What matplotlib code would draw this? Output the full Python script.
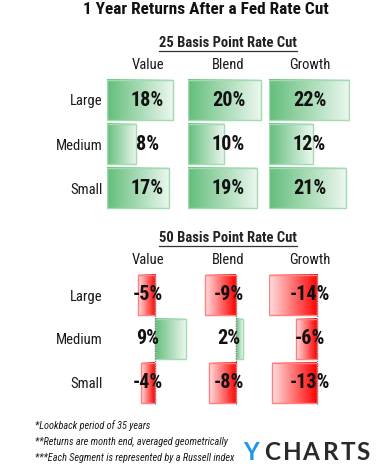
import matplotlib
matplotlib.use('Agg')
import matplotlib.pyplot as plt
import numpy as np
from matplotlib import font_manager as fm
from matplotlib.colors import to_rgb
from matplotlib.lines import Line2D
from matplotlib.transforms import blended_transform_factory as btf

# ---------------- data ----------------
title = "1 Year Returns After a Fed Rate Cut"
section_titles = ["25 Basis Point Rate Cut", "50 Basis Point Rate Cut"]
styles = ["Value", "Blend", "Growth"]
sizes = ["Large", "Medium", "Small"]
cut25_value = [18, 8, 17]
cut25_blend = [20, 10, 19]
cut25_growth = [22, 12, 21]
cut50_value = [-5, 9, -4]
cut50_blend = [-9, 2, -8]
cut50_growth = [-14, -6, -13]
footnotes = ["*Lookback period of 35 years",
             "**Returns are month end, averaged geometrically",
             "***Each Segment is represented by a Russell index"]
logo_letters = ["Y", "C", "H", "A", "R", "T", "S"]

# ---------------- fonts ----------------
names = {f.name for f in fm.fontManager.ttflist}
COND = "Roboto" if "Roboto" in names else "DejaVu Sans"
for cand in ["Roboto Condensed", "Liberation Sans Narrow"]:
    if cand in names:
        COND = cand
        break
plt.rcParams['font.family'] = [COND, 'DejaVu Sans']

W, H = 386, 471
fig = plt.figure(figsize=(W / 100, H / 100), dpi=100)
fig.patch.set_facecolor('white')


def px_axes(left, top, width, height):
    return fig.add_axes([left / W, 1 - (top + height) / H, width / W, height / H])


GREEN = "#63BE7B"
RED = "#FF0000"
GREEN_EDGE = "#a0dbb1"
RED_EDGE = "#ff8080"


def gradient_bar(ax, y, v, h):
    base = GREEN if v >= 0 else RED
    edge = GREEN_EDGE if v >= 0 else RED_EDGE
    bars = ax.barh([y], [v], height=h, left=0, facecolor='none',
                   edgecolor=edge, linewidth=1.0, zorder=2)
    r = bars.patches[0]
    x0, w = r.get_x(), r.get_width()
    y0, hh = r.get_y(), r.get_height()
    c0 = np.array(to_rgb(base))
    c1 = c0 + (1 - c0) * 0.88
    t = np.linspace(0, 1, 256)[:, None]
    img = (c0[None, :] * (1 - t) + c1[None, :] * t)[None, :, :]
    # column 0 at zero, fading outward
    ax.imshow(img, extent=[x0, x0 + w, y0 + hh, y0], aspect='auto',
              interpolation='bilinear', zorder=1)


def section(top, series, xlim, zero_line):
    axes = []
    for i, (name, vals) in enumerate(zip(styles, series)):
        ax = px_axes(107 + 81 * i, top, 81, 132)
        for j, v in enumerate(vals):
            gradient_bar(ax, j, v, 0.92)
        tr = btf(ax.transAxes, ax.transData)
        for j, v in enumerate(vals):
            ax.text(0.5, j, f"{v}%", transform=tr, ha='center', va='center',
                    fontsize=14.5, fontweight='bold', color='#111111', zorder=5)
        if zero_line:
            ax.axvline(0, color='#7a7a7a', linestyle=(0, (1, 1)), linewidth=0.9,
                       ymin=0.01, ymax=0.99, zorder=4)
        ax.set_xlim(*xlim)
        ax.set_ylim(2.5, -0.5)
        for s in ax.spines.values():
            s.set_visible(False)
        ax.set_xticks([])
        if i == 0:
            ax.set_yticks(range(len(sizes)), sizes)
            ax.tick_params(axis='y', length=0, pad=3, labelsize=10.5,
                           labelcolor='#1a1a1a')
        else:
            ax.set_yticks([])
        ax.text(0.5, 1 + 13 / 132, name, transform=ax.transAxes, ha='center',
                va='center', fontsize=10.5, color='#1a1a1a')
        ax.patch.set_alpha(0)
        axes.append(ax)
    return axes


section(78, [cut25_value, cut25_blend, cut25_growth], (0, 22.2), False)
section(273, [cut50_value, cut50_blend, cut50_growth], (-14, 9.6), True)

# titles
fig.text(206 / W, 1 - 9 / H, title, ha='center', va='center', fontsize=12.4,
         fontweight='bold', color='#111111')
subs = []
for txt, yc in zip(section_titles, [43, 238]):
    subs.append(fig.text(228 / W, 1 - yc / H, txt, ha='center', va='center',
                         fontsize=10.5, fontweight='bold', color='#222222'))

# footnotes
for txt, yc in zip(footnotes, [426, 442, 458]):
    fig.text(35 / W, 1 - yc / H, txt, ha='left', va='center', fontsize=7.4,
             style='italic', color='#1a1a1a')

# logo
logo_x = [251, 272, 292, 311, 330.5, 347.5, 363]
for ch, xc in zip(logo_letters, logo_x):
    fig.text(xc / W, 1 - 452 / H, ch, ha='center', va='center', fontsize=17.5,
             fontweight='bold', color='#1e96ee' if ch == 'Y' else '#2a2a2a',
             family=['Lato', 'DejaVu Sans'])

# underline subtitles
fig.canvas.draw()
r = fig.canvas.get_renderer()
for t in subs:
    bb = t.get_window_extent(renderer=r)
    yline = (bb.y0 - 0.5) / H
    fig.add_artist(Line2D([bb.x0 / W, bb.x1 / W], [yline, yline],
                          transform=fig.transFigure, color='#333333', lw=0.9))

fig.savefig('out.png', dpi=100, facecolor='white')
